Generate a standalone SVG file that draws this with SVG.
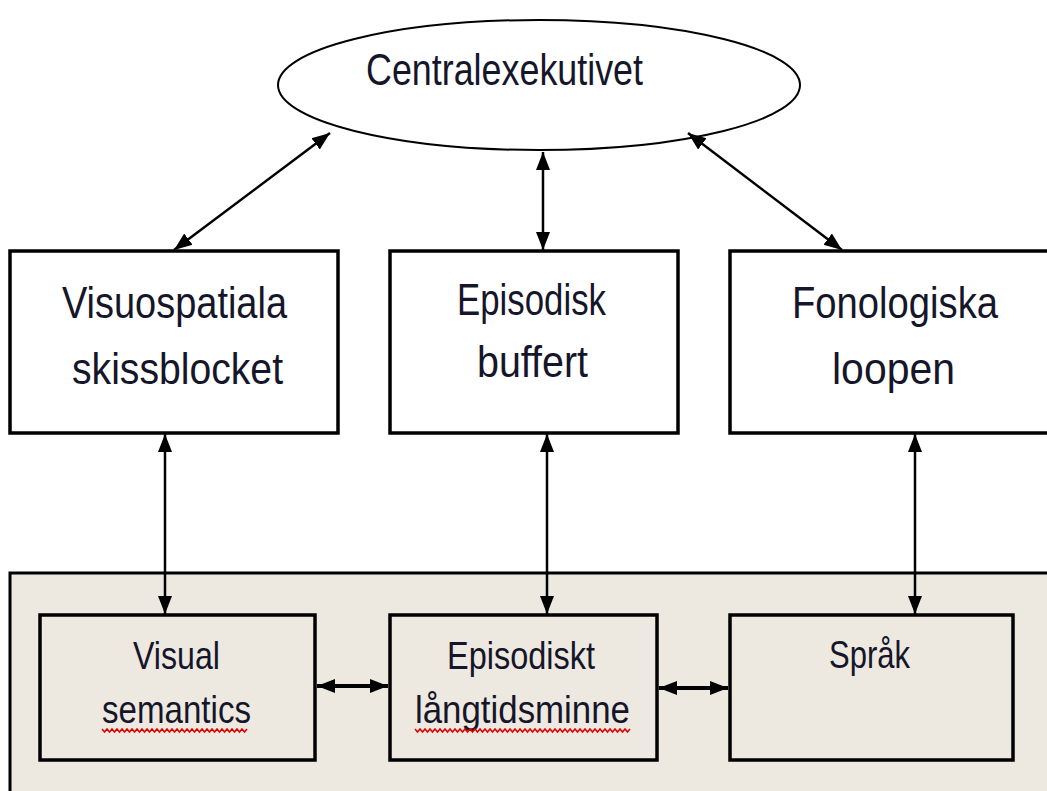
<svg xmlns="http://www.w3.org/2000/svg" width="1047" height="791" viewBox="0 0 1047 791">
<defs>
<style>
.t{font-family:"Liberation Sans",Arial,sans-serif;fill:#16162a}
.box{fill:#fff;stroke:#000;stroke-width:3.5}
.ibox{fill:none;stroke:#000;stroke-width:3.5}
.c{stroke:#000;stroke-width:2.5;fill:none}
.c2{stroke:#000;stroke-width:4;fill:none}
.sq{stroke:#e00000;stroke-width:1.5;fill:none}
</style>
<marker id="ah" markerUnits="userSpaceOnUse" markerWidth="20" markerHeight="16" refX="18" refY="7" orient="auto-start-reverse" viewBox="0 0 20 14">
<path d="M0,0 L18,7 L0,14 z" fill="#000"/>
</marker>
</defs>
<rect width="1047" height="791" fill="#fff"/>
<g id="panel">
<rect x="10" y="573" width="1050" height="230" fill="#EDE9E1" stroke="#000" stroke-width="3"/>
</g>
<g id="central">
<ellipse cx="539" cy="85" rx="261" ry="65" fill="#fff" stroke="#000" stroke-width="2"/>
<text class="t" x="366" y="85" font-size="44" textLength="277" lengthAdjust="spacingAndGlyphs">Centralexekutivet</text>
</g>
<g id="visuospatiala">
<rect class="box" x="10" y="251" width="328" height="182"/>
<text class="t" x="62" y="318" font-size="44" textLength="225" lengthAdjust="spacingAndGlyphs">Visuospatiala</text>
<text class="t" x="72" y="384" font-size="44" textLength="211" lengthAdjust="spacingAndGlyphs">skissblocket</text>
</g>
<g id="episodisk">
<rect class="box" x="390" y="251" width="288" height="182"/>
<text class="t" x="457" y="315" font-size="44" textLength="149" lengthAdjust="spacingAndGlyphs">Episodisk</text>
<text class="t" x="477" y="377" font-size="44" textLength="111" lengthAdjust="spacingAndGlyphs">buffert</text>
</g>
<g id="fonologiska">
<rect class="box" x="730" y="251" width="330" height="182"/>
<text class="t" x="792" y="318" font-size="44" textLength="206" lengthAdjust="spacingAndGlyphs">Fonologiska</text>
<text class="t" x="832" y="384" font-size="44" textLength="123" lengthAdjust="spacingAndGlyphs">loopen</text>
</g>
<g id="visual-semantics">
<rect class="ibox" x="40" y="615" width="275" height="145"/>
<text class="t" x="133" y="669" font-size="39" textLength="87" lengthAdjust="spacingAndGlyphs">Visual</text>
<text class="t" x="102" y="723" font-size="39" textLength="149" lengthAdjust="spacingAndGlyphs">semantics</text>
<path class="sq" d="M102,729 l2.5,3 l2.5,-3 l2.5,3 l2.5,-3 l2.5,3 l2.5,-3 l2.5,3 l2.5,-3 l2.5,3 l2.5,-3 l2.5,3 l2.5,-3 l2.5,3 l2.5,-3 l2.5,3 l2.5,-3 l2.5,3 l2.5,-3 l2.5,3 l2.5,-3 l2.5,3 l2.5,-3 l2.5,3 l2.5,-3 l2.5,3 l2.5,-3 l2.5,3 l2.5,-3 l2.5,3 l2.5,-3 l2.5,3 l2.5,-3 l2.5,3 l2.5,-3 l2.5,3 l2.5,-3 l2.5,3 l2.5,-3 l2.5,3 l2.5,-3 l2.5,3 l2.5,-3 l2.5,3 l2.5,-3 l2.5,3 l2.5,-3 l2.5,3 l2.5,-3 l2.5,3 l2.5,-3 l2.5,3 l2.5,-3 l2.5,3 l2.5,-3 l2.5,3 l2.5,-3 l2.5,3 l2.5,-3"/>
</g>
<g id="episodiskt">
<rect class="ibox" x="390" y="615" width="267" height="145"/>
<text class="t" x="447" y="669" font-size="39" textLength="148" lengthAdjust="spacingAndGlyphs">Episodiskt</text>
<text class="t" x="415" y="723" font-size="39" textLength="215" lengthAdjust="spacingAndGlyphs">långtidsminne</text>
<path class="sq" d="M415,729 l2.5,3 l2.5,-3 l2.5,3 l2.5,-3 l2.5,3 l2.5,-3 l2.5,3 l2.5,-3 l2.5,3 l2.5,-3 l2.5,3 l2.5,-3 l2.5,3 l2.5,-3 l2.5,3 l2.5,-3 l2.5,3 l2.5,-3 l2.5,3 l2.5,-3 l2.5,3 l2.5,-3 l2.5,3 l2.5,-3 l2.5,3 l2.5,-3 l2.5,3 l2.5,-3 l2.5,3 l2.5,-3 l2.5,3 l2.5,-3 l2.5,3 l2.5,-3 l2.5,3 l2.5,-3 l2.5,3 l2.5,-3 l2.5,3 l2.5,-3 l2.5,3 l2.5,-3 l2.5,3 l2.5,-3 l2.5,3 l2.5,-3 l2.5,3 l2.5,-3 l2.5,3 l2.5,-3 l2.5,3 l2.5,-3 l2.5,3 l2.5,-3 l2.5,3 l2.5,-3 l2.5,3 l2.5,-3 l2.5,3 l2.5,-3 l2.5,3 l2.5,-3 l2.5,3 l2.5,-3 l2.5,3 l2.5,-3 l2.5,3 l2.5,-3 l2.5,3 l2.5,-3 l2.5,3 l2.5,-3 l2.5,3 l2.5,-3 l2.5,3 l2.5,-3 l2.5,3 l2.5,-3 l2.5,3 l2.5,-3 l2.5,3 l2.5,-3 l2.5,3 l2.5,-3 l2.5,3 l2.5,-3"/>
</g>
<g id="sprak">
<rect class="ibox" x="730" y="615" width="283" height="145"/>
<text class="t" x="829" y="668" font-size="39" textLength="81" lengthAdjust="spacingAndGlyphs">Språk</text>
</g>
<g id="connectors">
<line class="c" x1="330" y1="133" x2="174" y2="250" marker-start="url(#ah)" marker-end="url(#ah)"/>
<line class="c" x1="543" y1="152" x2="543" y2="250" marker-start="url(#ah)" marker-end="url(#ah)"/>
<line class="c" x1="688" y1="133" x2="842" y2="250" marker-start="url(#ah)" marker-end="url(#ah)"/>
<line class="c" x1="165" y1="434" x2="165" y2="614" marker-start="url(#ah)" marker-end="url(#ah)"/>
<line class="c" x1="547" y1="434" x2="547" y2="614" marker-start="url(#ah)" marker-end="url(#ah)"/>
<line class="c" x1="915" y1="434" x2="915" y2="614" marker-start="url(#ah)" marker-end="url(#ah)"/>
<line class="c2" x1="317" y1="686" x2="388" y2="686" marker-start="url(#ah)" marker-end="url(#ah)"/>
<line class="c2" x1="659" y1="688" x2="728" y2="688" marker-start="url(#ah)" marker-end="url(#ah)"/>
</g>
</svg>
